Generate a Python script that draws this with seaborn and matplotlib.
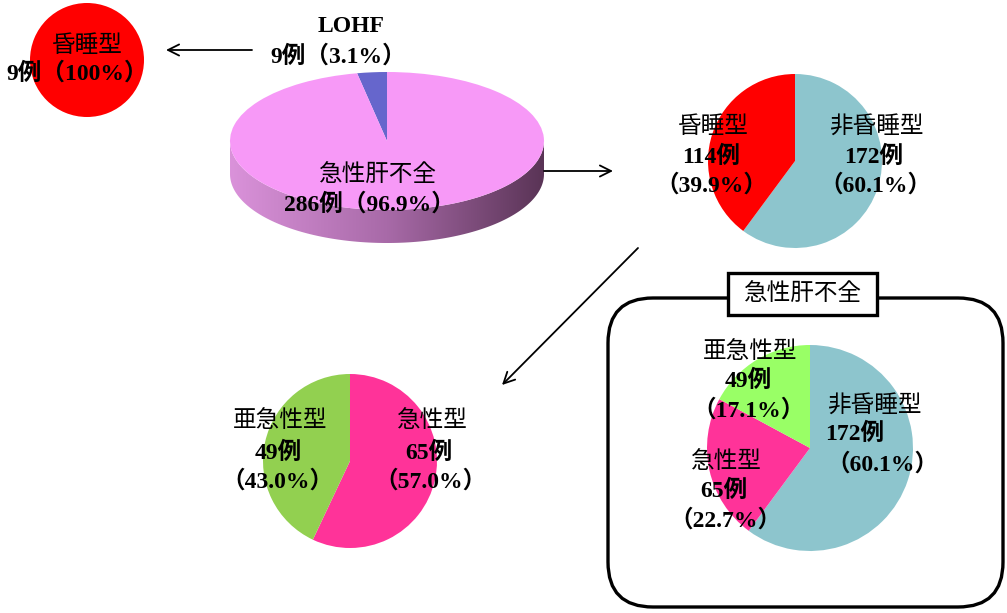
import numpy as np
import matplotlib
matplotlib.use("Agg")
import matplotlib.pyplot as plt
import seaborn as sns
from matplotlib.patches import FancyBboxPatch, Rectangle, Polygon
from matplotlib.colors import LinearSegmentedColormap

# --------------------------
# Data
# --------------------------
total_labels = ["LOHF", "急性肝不全"]
total_counts = [9, 286]

lohf_labels = ["昏睡型"]
lohf_counts = [9]

alf_labels = ["非昏睡型", "昏睡型"]
alf_counts = [172, 114]

coma_labels = ["急性型", "亜急性型"]
coma_counts = [65, 49]

box_labels = ["非昏睡型", "急性型", "亜急性型"]
box_counts = [172, 65, 49]

# --------------------------
# Style
# --------------------------
sns.set_theme(style="white")
plt.rcParams["font.family"] = ["Liberation Serif", "Noto Sans CJK JP"]
plt.rcParams["text.color"] = "black"

W, H = 1007, 613
FS = 17
RED = "#FF0000"
TEAL = "#8DC5CD"
PINK = "#FF3399"
GREEN = "#92D050"
LGREEN = "#99FF66"
BLUE = "#6666CC"
LILAC = "#F799F7"

fig = plt.figure(figsize=(W / 100, H / 100), dpi=100)


def pie_axes(cx, cy, rx, ry, below=0.0):
    # axes in pixel coordinates (y from top)
    ax = fig.add_axes([(cx - rx) / W, 1 - (cy + ry + below) / H,
                       2 * rx / W, (2 * ry + below) / H])
    return ax


def finish(ax, d=0.0):
    ax.set_aspect("auto")
    ax.set_xlim(-1, 1)
    ax.set_ylim(-1 - d, 1)
    ax.axis("off")


def pct(n, tot):
    p = n / tot * 100
    return "100%" if round(p, 1) == 100 else f"{p:.1f}%"


wp = dict(linewidth=0)

# red circle: LOHF all coma type
ax1 = pie_axes(87, 60, 57, 57)
ax1.pie(lohf_counts, colors=[RED], startangle=90, counterclock=False, wedgeprops=wp)
finish(ax1)

# 3D style pie for total
cx3, cy3, rx3, ry3, dep = 387, 141, 157, 69, 33
d = dep / ry3
ax3 = pie_axes(cx3, cy3, rx3, ry3, below=dep)
ax3.pie(total_counts, colors=[BLUE, LILAC], startangle=90, counterclock=True, wedgeprops=wp)
t = np.linspace(np.pi, 2 * np.pi, 200)
side = np.vstack([np.column_stack([np.cos(t), np.sin(t)]),
                  np.column_stack([np.cos(t[::-1]), np.sin(t[::-1]) - d])])
poly = Polygon(side, closed=True, facecolor="none", edgecolor="none")
ax3.add_patch(poly)
cmap = LinearSegmentedColormap.from_list("side", ["#DA92DA", "#A86AA8", "#5A3456"])
img = ax3.imshow(np.linspace(0, 1, 256)[None, :], cmap=cmap, aspect="auto",
                 extent=[-1, 1, -1 - d, 0.05], zorder=0)
img.set_clip_path(poly)
finish(ax3, d)

# ALF by coma
ax4 = pie_axes(795, 161, 87, 87)
ax4.pie(alf_counts, colors=[TEAL, RED], startangle=90, counterclock=False, wedgeprops=wp)
finish(ax4)

# coma subtypes
ax5 = pie_axes(350, 461, 87, 87)
ax5.pie(coma_counts, colors=[PINK, GREEN], startangle=90, counterclock=False, wedgeprops=wp)
finish(ax5)

# ALF breakdown inside box
ax6 = pie_axes(810, 448, 103, 103)
ax6.pie(box_counts, colors=[TEAL, PINK, LGREEN], startangle=90, counterclock=False, wedgeprops=wp)
finish(ax6)

# --------------------------
# Overlay: text, arrows, frame
# --------------------------
ov = fig.add_axes([0, 0, 1, 1], zorder=10)
ov.set_xlim(0, W)
ov.set_ylim(H, 0)
ov.axis("off")
ov.patch.set_alpha(0)


def label(x, ys, lines, bold_first=False):
    for i, (y, s) in enumerate(zip(ys, lines)):
        w = "bold" if (i > 0 or bold_first) else "normal"
        ov.text(x[i], y, s, ha="center", va="center", fontsize=FS, fontweight=w,
                color="black")


tot = sum(total_counts)
label([351, 338], [27, 56],
      [total_labels[0], f"{total_counts[0]}例（{pct(total_counts[0], tot)}）"], bold_first=True)
label([378, 369], [175, 204],
      [total_labels[1], f"{total_counts[1]}例（{pct(total_counts[1], tot)}）"])
label([87, 77], [46, 73],
      [lohf_labels[0], f"{lohf_counts[0]}例（{pct(lohf_counts[0], sum(lohf_counts))}）"])

a = sum(alf_counts)
label([876, 874, 875], [127, 157, 185],
      [alf_labels[0], f"{alf_counts[0]}例", f"（{pct(alf_counts[0], a)}）"])
label([713, 711, 711], [127, 157, 185],
      [alf_labels[1], f"{alf_counts[1]}例", f"（{pct(alf_counts[1], a)}）"])

c = sum(coma_counts)
label([432, 429, 430], [421, 453, 481],
      [coma_labels[0], f"{coma_counts[0]}例", f"（{pct(coma_counts[0], c)}）"])
label([280, 278, 277], [421, 453, 481],
      [coma_labels[1], f"{coma_counts[1]}例", f"（{pct(coma_counts[1], c)}）"])

b = sum(box_counts)
label([874, 855, 882], [406, 434, 464],
      [box_labels[0], f"{box_counts[0]}例", f"（{pct(box_counts[0], b)}）"])
label([726, 724, 725], [462, 491, 520],
      [box_labels[1], f"{box_counts[1]}例", f"（{pct(box_counts[1], b)}）"])
label([750, 748, 749], [352, 381, 410],
      [box_labels[2], f"{box_counts[2]}例", f"（{pct(box_counts[2], b)}）"])

arrow = dict(arrowstyle="->", lw=1.3, color="black", mutation_scale=20,
             shrinkA=0, shrinkB=0)
ov.annotate("", xy=(166, 50), xytext=(252, 50), arrowprops=arrow)
ov.annotate("", xy=(613, 171), xytext=(544, 171), arrowprops=arrow)
ov.annotate("", xy=(502, 385), xytext=(638, 248), arrowprops=arrow)

frame = FancyBboxPatch((608, 298), 395, 309, boxstyle="round,pad=0,rounding_size=45",
                       facecolor="none", edgecolor="black", lw=2.4)
ov.add_patch(frame)
ov.add_patch(Rectangle((728, 273), 149, 42, facecolor="white", edgecolor="black", lw=2.4))
ov.text(803, 294, "急性肝不全", ha="center", va="center", fontsize=FS, color="black")

plt.savefig("out.png", dpi=100)
